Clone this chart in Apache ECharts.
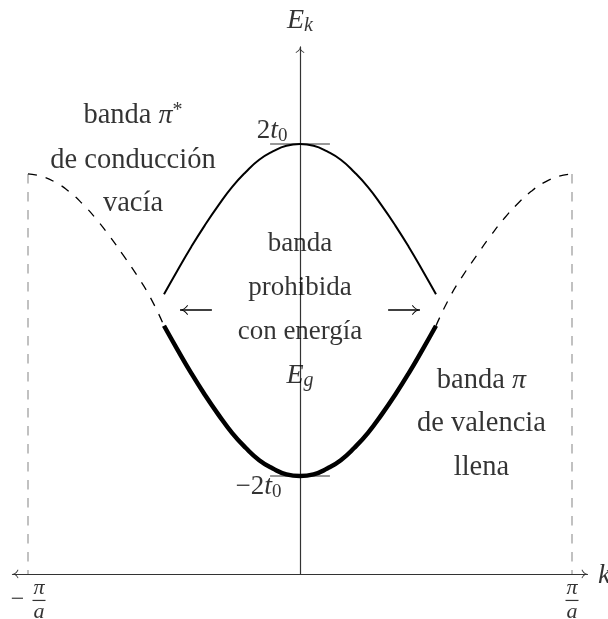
<!DOCTYPE html>
<html><head><meta charset="utf-8">
<script src="https://cdn.jsdelivr.net/npm/echarts@6/dist/echarts.min.js"></script>
<style>html,body{margin:0;padding:0;background:#fff}#c{width:608px;height:619px}</style>
</head><body><div id="c"></div>
<script>
// ---------- data (k in units of π/a, E in units of t0) ----------
const kBand = [-0.5,-0.45,-0.4,-0.35,-0.3,-0.25,-0.2,-0.15,-0.1,-0.05,0,0.05,0.1,0.15,0.2,0.25,0.3,0.35,0.4,0.45,0.5];
const eConduction = [0.19,0.48,0.76,1.02,1.26,1.48,1.66,1.81,1.91,1.98,2.0,1.98,1.91,1.81,1.66,1.48,1.26,1.02,0.76,0.48,0.19];
const eValence = [-0.19,-0.48,-0.76,-1.02,-1.26,-1.48,-1.66,-1.81,-1.91,-1.98,-2.0,-1.98,-1.91,-1.81,-1.66,-1.48,-1.26,-1.02,-0.76,-0.48,-0.19];
const kDashLeft = [-1,-0.95,-0.9,-0.85,-0.8,-0.75,-0.7,-0.65,-0.6,-0.55,-0.5];
const eDashLeft = [1.64,1.61,1.54,1.43,1.28,1.10,0.89,0.66,0.42,0.15,-0.19];
const kDashRight = [0.5,0.55,0.6,0.65,0.7,0.75,0.8,0.85,0.9,0.95,1];
const eDashRight = [-0.19,0.15,0.42,0.66,0.89,1.10,1.28,1.43,1.54,1.61,1.64];
const kZoneEdges = [-1, 1];
const eZoneTop = 1.64;
const eTicks = [2, -2];
const kTickHalf = 0.11;
const kGapArrowLeft = [-0.324, -0.441];
const kGapArrowRight = [0.324, 0.441];
const tickLabels = ['2t_0', '−2t_0'];
const edgeLabels = ['−π/a', 'π/a'];
const axisNames = ['E_k', 'k'];
const leftBandText = ['banda π*', 'de conducción', 'vacía'];
const gapText = ['banda', 'prohibida', 'con energía', 'E_g'];
const rightBandText = ['banda π', 'de valencia', 'llena'];

// ---------- layout ----------
const X0 = 300, KPX = 272, Y0 = 310, EPX = 83;
const xMax = 1.057, yMin = -3.18, yMax = 3.17;
const leftAnchor = {k: -0.614, e: [2.343, 1.801, 1.283]};
const gapAnchor = {k: 0, e: [0.795, 0.265, -0.265, -0.795]};
const rightAnchor = {k: 0.667, e: [-0.849, -1.367, -1.898]};

const SERIF = '"Liberation Serif","Times New Roman",serif';
const AXIS_ARROW = 'path://M5,0 C5.4,2.6 7.4,4.8 10,6 L9.5,6.8 C7.4,5.8 5.6,4.3 5,2.5 C4.4,4.3 2.6,5.8 0.5,6.8 L0,6 C2.6,4.8 4.6,2.6 5,0 Z';
const GAP_ARROW = 'path://M5,0 Q5.6,4.6 10,8.4 L9.2,9.2 Q6,6.6 5,3 Q4,6.6 0.8,9.2 L0,8.4 Q4.4,4.6 5,0 Z';

const zip = (ks, es) => ks.map((k, i) => [k, es[i]]);

function markup(s, base) {
  if (s.includes('_')) {
    const [a, b] = s.split('_');
    return '{m|' + a + '}{msub|' + b + '}';
  }
  let out = '', buf = '';
  const flush = () => { if (buf) { out += '{' + base + '|' + buf + '}'; buf = ''; } };
  for (const ch of s) {
    if (ch === 'π') { flush(); out += '{m|π}'; }
    else if (ch === '*') { flush(); out += '{sup|*}'; }
    else buf += ch;
  }
  flush();
  return out;
}
function tickMarkup(s) {
  // e.g. '2t_0' -> upright digits, italic t, subscript 0
  const m = s.match(/^(.*?)t_(\d)$/);
  return '{n|' + m[1] + '}{m|t}{sub|' + m[2] + '}';
}
function fracMarkup(s) {
  const [num, den] = s.replace('−', '').split('/');
  return '{fn|' + num + '}\n{bar| }\n{fd|' + den + '}';
}

const rich = {
  t: {fontFamily: SERIF, fontSize: 28.5, color: '#000', lineHeight: 30},
  c: {fontFamily: SERIF, fontSize: 27, color: '#000', lineHeight: 30},
  n: {fontFamily: SERIF, fontSize: 27, color: '#000', lineHeight: 30},
  m: {fontFamily: SERIF, fontStyle: 'italic', fontSize: 28, color: '#000', lineHeight: 30},
  sup: {fontFamily: SERIF, fontSize: 20, color: '#000', lineHeight: 16, verticalAlign: 'top'},
  sub: {fontFamily: SERIF, fontSize: 19, color: '#000', lineHeight: 14, verticalAlign: 'bottom'},
  msub: {fontFamily: SERIF, fontStyle: 'italic', fontSize: 20, color: '#000', lineHeight: 14, verticalAlign: 'bottom'},
  fn: {fontFamily: SERIF, fontStyle: 'italic', fontSize: 22, color: '#000', lineHeight: 20},
  fd: {fontFamily: SERIF, fontStyle: 'italic', fontSize: 22, color: '#000', lineHeight: 20},
  bar: {width: 13, height: 1.2, lineHeight: 4, backgroundColor: '#000', fontSize: 1},
  fm: {fontFamily: SERIF, fontSize: 24, color: '#000', lineHeight: 24}
};

const labelItems = [];
leftBandText.forEach((s, i) => labelItems.push({value: [leftAnchor.k, leftAnchor.e[i]], txt: markup(s, 't')}));
gapText.forEach((s, i) => labelItems.push({value: [gapAnchor.k, gapAnchor.e[i]], txt: markup(s, 'c')}));
rightBandText.forEach((s, i) => labelItems.push({value: [rightAnchor.k, rightAnchor.e[i]], txt: markup(s, 't')}));
labelItems.push({value: [0, eTicks[0]], txt: tickMarkup(tickLabels[0]), label: {position: 'left', distance: 12, offset: [0, -13]}});
labelItems.push({value: [0, eTicks[1]], txt: tickMarkup(tickLabels[1]), label: {position: 'left', distance: 18, offset: [0, 11]}});
labelItems.push({value: [0, yMax], txt: markup(axisNames[0], 'm'), label: {offset: [0, -26]}});
labelItems.push({value: [xMax, yMin], txt: '{m|' + axisNames[1] + '}', label: {position: 'right', distance: 10, offset: [0, 2]}});
labelItems.push({value: [kZoneEdges[1], yMin], txt: fracMarkup(edgeLabels[1]), label: {position: 'bottom', distance: 4}});
labelItems.push({value: [kZoneEdges[0], yMin], txt: fracMarkup(edgeLabels[0]), label: {position: 'bottom', distance: 4, offset: [11, 0]}});
labelItems.push({value: [kZoneEdges[0], yMin], txt: '{fm|−}', label: {offset: [-10.5, 26]}});

const lineBase = {type: 'line', showSymbol: false, silent: true, animation: false};
const axisLineStyle = {color: '#333', width: 1.2};

const option = {
  animation: false,
  grid: {left: X0 - xMax * KPX, width: 2 * xMax * KPX, top: Y0 - yMax * EPX, height: (yMax - yMin) * EPX},
  xAxis: {
    type: 'value', min: -xMax, max: xMax, position: 'bottom',
    axisLine: {onZero: false, symbol: [AXIS_ARROW, AXIS_ARROW], symbolSize: [9, 6], symbolOffset: [3, -3], lineStyle: axisLineStyle},
    axisTick: {show: false}, axisLabel: {show: false}, splitLine: {show: false}
  },
  yAxis: {
    type: 'value', min: yMin, max: yMax,
    axisLine: {onZero: true, symbol: ['none', AXIS_ARROW], symbolSize: [9, 6], symbolOffset: [0, -3], lineStyle: axisLineStyle},
    axisTick: {show: false}, axisLabel: {show: false}, splitLine: {show: false}
  },
  series: [
    Object.assign({}, lineBase, {data: [[kZoneEdges[0], eZoneTop], [kZoneEdges[0], yMin]], lineStyle: {color: '#a0a0a0', width: 1.3, type: [9.5, 8.5]}, z: 1}),
    Object.assign({}, lineBase, {data: [[kZoneEdges[1], eZoneTop], [kZoneEdges[1], yMin]], lineStyle: {color: '#a0a0a0', width: 1.3, type: [9.5, 8.5]}, z: 1}),
    Object.assign({}, lineBase, {data: [[-kTickHalf, eTicks[0]], [kTickHalf, eTicks[0]]], lineStyle: {color: '#333', width: 1.2}, z: 2}),
    Object.assign({}, lineBase, {data: [[-kTickHalf, eTicks[1]], [kTickHalf, eTicks[1]]], lineStyle: {color: '#333', width: 1.2}, z: 2}),
    Object.assign({}, lineBase, {data: zip(kDashLeft, eDashLeft), smooth: true, lineStyle: {color: '#000', width: 1.3, type: [9, 9]}, z: 3}),
    Object.assign({}, lineBase, {data: zip(kDashRight, eDashRight), smooth: true, lineStyle: {color: '#000', width: 1.3, type: [9, 9]}, z: 3}),
    Object.assign({}, lineBase, {data: zip(kBand, eConduction), smooth: true, lineStyle: {color: '#000', width: 2}, z: 4}),
    Object.assign({}, lineBase, {data: zip(kBand, eValence), smooth: true, lineStyle: {color: '#000', width: 4.5}, z: 4}),
    Object.assign({}, lineBase, {
      showSymbol: true, itemStyle: {color: '#000'}, lineStyle: {color: '#000', width: 1.5}, z: 5,
      data: [{value: [kGapArrowLeft[0], 0], symbol: 'none'},
             {value: [kGapArrowLeft[1], 0], symbol: GAP_ARROW, symbolSize: [10, 8], symbolRotate: 90, symbolOffset: [4, 0]}]
    }),
    Object.assign({}, lineBase, {
      showSymbol: true, itemStyle: {color: '#000'}, lineStyle: {color: '#000', width: 1.5}, z: 5,
      data: [{value: [kGapArrowRight[0], 0], symbol: 'none'},
             {value: [kGapArrowRight[1], 0], symbol: GAP_ARROW, symbolSize: [10, 8], symbolRotate: -90, symbolOffset: [-4, 0]}]
    }),
    {
      type: 'scatter', silent: true, animation: false, symbolSize: 1, itemStyle: {color: 'rgba(0,0,0,0)'}, z: 6,
      label: {show: true, position: 'inside', formatter: p => p.data.txt, rich: rich, color: '#000'},
      data: labelItems
    }
  ]
};
const chart = echarts.init(document.getElementById('c'), null, {renderer: 'canvas'});
chart.setOption(option);
</script></body></html>
